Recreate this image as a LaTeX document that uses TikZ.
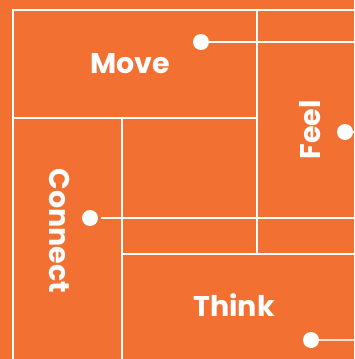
\documentclass[tikz,border=0pt]{standalone}
\usepackage{fontspec}
\setmainfont{Poppins}
\usetikzlibrary{positioning}
\definecolor{brandorange}{HTML}{F37033}

\begin{document}
\begin{tikzpicture}[x=1pt, y=-1pt,
  wall/.style={white, line width=2.8pt},
  link/.style={white, line width=1.2pt},
  dot/.style={circle, fill=white, inner sep=0pt, minimum size=16pt},
  zonetext/.style={text=white, inner sep=0pt, font=\bfseries\fontsize{28.5}{31}\selectfont}]
  \fill[brandorange] (0,0) rectangle (354,359);
  \useasboundingbox (0,0) rectangle (354,359);

  % Walls
  \draw[wall] (11.6,10) -- (354,10);
  \draw[wall] (13,10) -- (13,359);
  \draw[wall] (13,118) -- (257,118);
  \draw[wall] (122,118) -- (122,359);
  \draw[wall] (257,10) -- (257,254);
  \draw[wall] (122,254) -- (354,254);

  % Zones
  \node[zonetext] (move) at (130,64) {Move};
  \node[zonetext, rotate=90] (feel) at (310,130) {Feel};
  \node[zonetext, rotate=-90] (connect) at (60,231) {Connect};
  \node[zonetext] (think) at (234,305) {Think};

  % Pins
  \node[dot] (movedot) at (201,42) {};
  \node[dot] (feeldot) at (345,132) {};
  \node[dot] (connectdot) at (90,218) {};
  \node[dot] (thinkdot) at (311,340) {};
  \coordinate (moveend) at (354,42);
  \coordinate (feelend) at (354,132);
  \coordinate (connectend) at (354,218);
  \coordinate (thinkend) at (354,340);

  \draw[link] (movedot) -- (moveend);
  \draw[link] (feeldot) -- (feelend);
  \draw[link, shorten <=3pt] (connectdot) -- (connectend);
  \draw[link, white!80!brandorange] (thinkdot) -- (thinkend);
\end{tikzpicture}
\end{document}
